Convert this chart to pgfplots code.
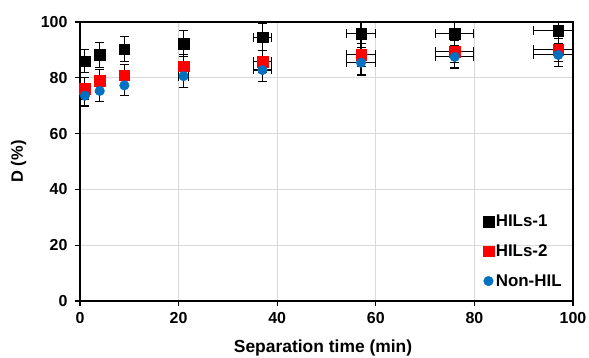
\documentclass[border=0pt]{standalone}
\usepackage{pgfplots}
\pgfplotsset{compat=1.18}
\usepackage{pgfplotstable}
\usepackage{fontspec}
\setmainfont{Liberation Sans}
\definecolor{hblue}{HTML}{0070C0}
\definecolor{hred}{HTML}{FF0000}
\definecolor{gridgray}{HTML}{D9D9D9}
\pgfplotstableread{
x y ex ey
1 86.0 0 4.2
4 88.2 0 4.4
9 90.2 0 4.5
21 92.3 1 4.6
37 94.5 1.8 4.8
57 95.8 3 4.8
76 95.9 3.8 4.8
97 96.9 5 4.8
}\hilsone
\pgfplotstableread{
x y ex ey
1 76.2 0 4.0
4 78.9 0 4.0
9 80.9 0 4.0
21 84.2 1 4.0
37 85.8 1.8 4.0
57 88.2 3 4.0
76 89.4 3.8 4.0
97 90.0 5 4.0
}\hilstwo
\pgfplotstableread{
x y ex ey
1 73.6 0 3.7
4 75.3 0 3.8
9 77.3 0 3.8
21 80.6 1 4.0
37 82.8 1.8 4.0
57 85.4 3 4.4
76 87.5 3.8 4.0
97 88.2 5 4.2
}\nonhil
\begin{document}
\begin{tikzpicture}
\useasboundingbox (-80bp,-57bp) rectangle (509bp,301bp);
\begin{axis}[
  at={(0,0)}, anchor=south west,
  scale only axis,
  width=493bp, height=279bp,
  xmin=0, xmax=100, ymin=0, ymax=100,
  xtick={0,20,...,100}, ytick={0,20,...,100},
  grid=major,
  major grid style={gridgray, line width=1.2bp},
  axis line style={black, line width=1.4bp},
  tick style={black, line width=1.2bp},
  tick align=outside,
  major tick length=5bp,
  xtick pos=bottom, ytick pos=left,
  /pgf/number format/assume math mode=true,
  tick label style={font=\bfseries\fontsize{16}{18}\selectfont},
  xticklabel style={yshift=-3bp},
  yticklabel style={xshift=-4bp},
  xlabel={Separation time (min)},
  ylabel={D (\%)},
  every axis x label/.style={at={(axis description cs:0.493,0)}, anchor=base, yshift=-51bp, font=\bfseries\fontsize{17.5}{20}\selectfont},
  every axis y label/.style={at={(axis description cs:-0.1247,0.5)}, rotate=90, anchor=center, font=\bfseries\fontsize{16.5}{19}\selectfont},
  legend style={at={(0.8174,0.04)}, anchor=south west, draw=none, fill=none, inner sep=0pt,
    font=\bfseries\fontsize{17}{19}\selectfont, row sep=12.5bp,
    /tikz/every even column/.append style={column sep=1bp}},
  legend cell align=left,
  legend image code/.code={\draw[#1] plot coordinates {(0bp,0bp)};},
  error bars/y dir=both, error bars/y explicit,
  error bars/x dir=both, error bars/x explicit,
  error bars/error bar style={black, line width=1.1bp},
  error bars/error mark options={rotate=90, black, mark size=4.5bp, line width=1.1bp},
]
\addplot[only marks, mark=square*, mark size=5.3bp, mark options={draw=black, fill=black}]
  table[x=x, y=y, x error=ex, y error=ey] {\hilsone};
\addlegendentry{HILs-1}
\addplot[only marks, mark=square*, mark size=5.3bp, mark options={draw=hred, fill=hred}]
  table[x=x, y=y, x error=ex, y error=ey] {\hilstwo};
\addlegendentry{HILs-2}
\addplot[only marks, mark=*, mark size=4.8bp, mark options={draw=hblue, fill=hblue}]
  table[x=x, y=y, x error=ex, y error=ey] {\nonhil};
\addlegendentry{Non-HIL}
\end{axis}
\end{tikzpicture}
\end{document}
